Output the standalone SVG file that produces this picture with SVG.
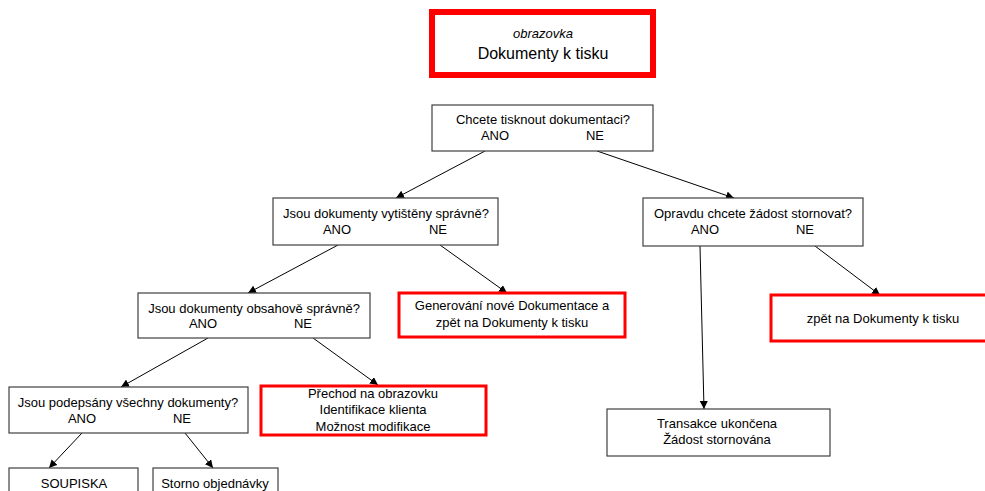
<svg xmlns="http://www.w3.org/2000/svg" width="985" height="491" viewBox="0 0 985 491">
<style>
  text { font-family: "Liberation Sans", Arial, sans-serif; font-size: 13px; fill: #000; text-anchor: middle; }
  .box { fill: #fff; stroke: #404040; stroke-width: 1.2; }
  .red { fill: #fff; stroke: #ff0000; stroke-width: 3; }
  .title { fill: #fff; stroke: #ff0000; stroke-width: 6; }
  .conn { stroke: #000; stroke-width: 1; fill: none; marker-end: url(#arrow); }
</style>
<defs>
  <marker id="arrow" viewBox="0 0 10 10" refX="10" refY="5" markerWidth="8" markerHeight="8" markerUnits="userSpaceOnUse" orient="auto">
    <path d="M0,0 L10,5 L0,10 z" fill="#000"/>
  </marker>
</defs>
<rect width="985" height="491" fill="#fff"/>

<g id="title">
  <rect class="title" x="432" y="12" width="221" height="63"/>
  <text x="543" y="38" style="font-style:italic">obrazovka</text>
  <text x="543" y="59" style="font-size:16px">Dokumenty k tisku</text>
</g>

<g id="connectors">
  <line class="conn" x1="485" y1="151" x2="396" y2="198"/>
  <line class="conn" x1="597" y1="151" x2="734" y2="198"/>
  <line class="conn" x1="338" y1="245" x2="248" y2="293"/>
  <line class="conn" x1="440" y1="245" x2="507" y2="293"/>
  <line class="conn" x1="700" y1="246" x2="704" y2="409"/>
  <line class="conn" x1="815" y1="246" x2="880" y2="295"/>
  <line class="conn" x1="208" y1="338" x2="121" y2="387"/>
  <line class="conn" x1="313" y1="338" x2="378" y2="385"/>
  <line class="conn" x1="82" y1="433" x2="49" y2="468"/>
  <line class="conn" x1="185" y1="433" x2="213" y2="468"/>
</g>

<g id="q1">
  <rect class="box" x="432" y="105" width="221" height="46"/>
  <text x="543" y="124">Chcete tisknout dokumentaci?</text>
  <text x="495" y="140">ANO</text>
  <text x="595" y="140">NE</text>
</g>

<g id="q2">
  <rect class="box" x="273" y="198" width="225" height="47"/>
  <text x="386" y="218">Jsou dokumenty vytištěny správně?</text>
  <text x="337" y="234">ANO</text>
  <text x="438" y="234">NE</text>
</g>

<g id="q3">
  <rect class="box" x="643" y="198" width="220" height="48"/>
  <text x="753" y="218">Opravdu chcete žádost stornovat?</text>
  <text x="705" y="234">ANO</text>
  <text x="805" y="234">NE</text>
</g>

<g id="q4">
  <rect class="box" x="138" y="293" width="232" height="45"/>
  <text x="254" y="313">Jsou dokumenty obsahově správně?</text>
  <text x="203" y="328">ANO</text>
  <text x="303" y="328">NE</text>
</g>

<g id="generovani">
  <rect class="red" x="399" y="293" width="226" height="44"/>
  <text x="512" y="310">Generování nové Dokumentace a</text>
  <text x="512" y="327">zpět na Dokumenty k tisku</text>
</g>

<g id="zpet">
  <rect class="red" x="771" y="295" width="230" height="46"/>
  <text x="883" y="323">zpět na Dokumenty k tisku</text>
</g>

<g id="prechod">
  <rect class="red" x="261" y="386" width="225" height="49"/>
  <text x="373" y="398">Přechod na obrazovku</text>
  <text x="373" y="414">Identifikace klienta</text>
  <text x="373" y="431">Možnost modifikace</text>
</g>

<g id="q5">
  <rect class="box" x="9" y="387" width="239" height="46"/>
  <text x="128" y="407">Jsou podepsány všechny dokumenty?</text>
  <text x="82" y="423">ANO</text>
  <text x="182" y="423">NE</text>
</g>

<g id="transakce">
  <rect class="box" x="607" y="409" width="223" height="47"/>
  <text x="717" y="428">Transakce ukončena</text>
  <text x="717" y="444">Žádost stornována</text>
</g>

<g id="soupiska">
  <rect class="box" x="9" y="468" width="129" height="40"/>
  <text x="74" y="488">SOUPISKA</text>
</g>

<g id="storno">
  <rect class="box" x="153" y="468" width="125" height="40"/>
  <text x="215" y="488">Storno objednávky</text>
</g>
</svg>
